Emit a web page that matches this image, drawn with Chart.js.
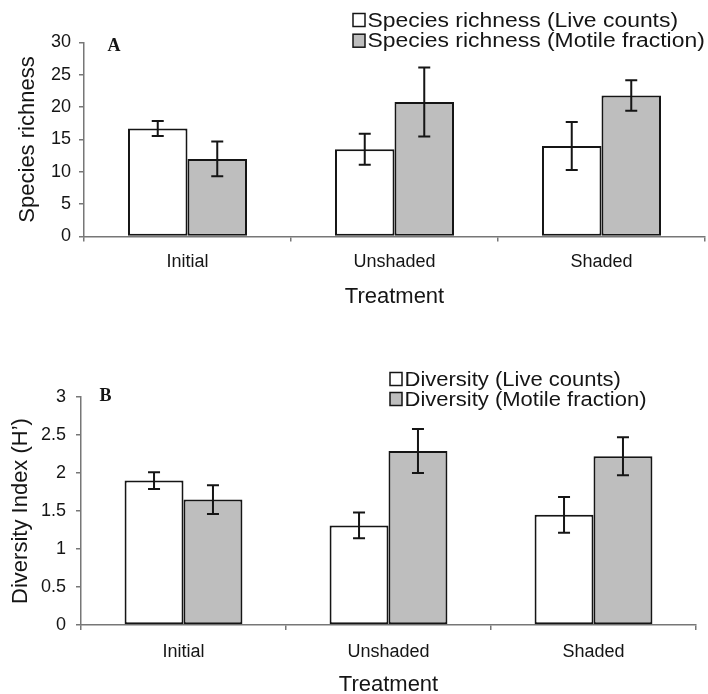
<!DOCTYPE html>
<html>
<head>
<meta charset="utf-8">
<script src="https://cdn.jsdelivr.net/npm/chart.js@4.4.1/dist/chart.umd.min.js"></script>
<style>
  html, body { margin: 0; padding: 0; background: #fff; overflow: hidden; }
  #wrap { position: relative; width: 708px; height: 694px; overflow: hidden; }
  canvas { position: absolute; left: 0; }
  #chartA { top: 0; }
  #chartB { top: 330px; }
</style>
</head>
<body>
<div id="wrap">
  <canvas id="chartA" width="708" height="330"></canvas>
  <canvas id="chartB" width="708" height="380"></canvas>
</div>
<script>
// data
const treatments = ['Initial', 'Unshaded', 'Shaded'];

const richnessLive = [16.7, 13.5, 14.0];
const richnessLiveErr = [1.15, 2.4, 3.7];
const richnessMotile = [12.0, 20.8, 21.8];
const richnessMotileErr = [2.7, 5.35, 2.35];
const richnessTicks = [0, 5, 10, 15, 20, 25, 30];

const diversityLive = [1.9, 1.31, 1.45];
const diversityLiveErr = [0.11, 0.17, 0.235];
const diversityMotile = [1.65, 2.29, 2.22];
const diversityMotileErr = [0.19, 0.29, 0.25];
const diversityTicks = [0, 0.5, 1, 1.5, 2, 2.5, 3];

const sansFont = "'Liberation Sans', Arial, Helvetica, sans-serif";
const axisGrey = '#777';
const ink = '#151515';
const barGrey = '#bebebe';

// error bars drawn on top of the bars
const errorBars = {
  id: 'errorBars',
  afterDatasetsDraw(chart) {
    const ctx = chart.ctx;
    const yScale = chart.scales.y;
    ctx.save();
    ctx.strokeStyle = ink;
    ctx.lineWidth = 2;
    chart.data.datasets.forEach((ds, i) => {
      const meta = chart.getDatasetMeta(i);
      meta.data.forEach((bar, j) => {
        const v = ds.data[j], e = ds.errors[j];
        const top = yScale.getPixelForValue(v + e);
        const bot = yScale.getPixelForValue(v - e);
        ctx.beginPath();
        ctx.moveTo(bar.x, top); ctx.lineTo(bar.x, bot);
        ctx.moveTo(bar.x - 6, top); ctx.lineTo(bar.x + 6, top);
        ctx.moveTo(bar.x - 6, bot); ctx.lineTo(bar.x + 6, bot);
        ctx.stroke();
      });
    });
    ctx.restore();
  }
};

// stacked legend with boxes and the panel letter
const panelLegend = {
  id: 'panelLegend',
  afterDraw(chart, args, opts) {
    const ctx = chart.ctx;
    ctx.save();
    chart.data.datasets.forEach((ds, i) => {
      const y = opts.y + i * opts.gap;
      ctx.fillStyle = ds.backgroundColor;
      ctx.fillRect(opts.x, y - 6.5, 12, 13);
      ctx.strokeStyle = ink;
      ctx.lineWidth = 1.5;
      ctx.strokeRect(opts.x, y - 6.5, 12, 13);
      ctx.save();
      ctx.translate(opts.x + 14.5, y);
      ctx.scale(opts.stretch, 1);
      ctx.fillStyle = ink;
      ctx.font = '20px ' + sansFont;
      ctx.textBaseline = 'middle';
      ctx.fillText(ds.label, 0, 1);
      ctx.restore();
    });
    ctx.fillStyle = ink;
    ctx.font = "bold 18px 'Liberation Serif', 'Times New Roman', serif";
    ctx.textAlign = 'center';
    ctx.textBaseline = 'middle';
    ctx.fillText(opts.letter, opts.letterX, opts.letterY);
    ctx.restore();
  }
};

function makeChart(id, cfg) {
  return new Chart(document.getElementById(id), {
    type: 'bar',
    data: {
      labels: treatments,
      datasets: [{
        label: cfg.names[0],
        data: cfg.live,
        errors: cfg.liveErr,
        backgroundColor: '#ffffff',
        borderColor: ink,
        borderWidth: 2,
        borderSkipped: false
      }, {
        label: cfg.names[1],
        data: cfg.motile,
        errors: cfg.motileErr,
        backgroundColor: barGrey,
        borderColor: ink,
        borderWidth: 2,
        borderSkipped: false
      }]
    },
    options: {
      responsive: false,
      animation: false,
      devicePixelRatio: 1,
      layout: { padding: { top: cfg.top, right: cfg.right, bottom: 0, left: 0 } },
      datasets: { bar: { barPercentage: 1, categoryPercentage: 0.575 } },
      plugins: {
        legend: { display: false },
        tooltip: { enabled: false },
        panelLegend: cfg.legend
      },
      scales: {
        x: {
          afterFit(scale) { scale.height = cfg.xHeight; },
          grid: { drawOnChartArea: false, drawTicks: true, tickLength: 5, color: axisGrey, lineWidth: 1.5, offset: true },
          border: { display: true, color: axisGrey, width: 1.5 },
          ticks: { color: ink, padding: cfg.xPad, font: { family: sansFont, size: 18 } },
          title: { display: true, text: 'Treatment', color: ink, padding: { top: 0, bottom: cfg.titlePad }, font: { family: sansFont, size: 22 } }
        },
        y: {
          min: 0,
          max: cfg.ticks[cfg.ticks.length - 1],
          afterFit(scale) { scale.width = cfg.yWidth; },
          afterBuildTicks(scale) { scale.ticks = cfg.ticks.map(v => ({ value: v })); },
          grid: { drawOnChartArea: false, drawTicks: true, tickLength: 5, color: axisGrey, lineWidth: 1.5 },
          border: { display: true, color: axisGrey, width: 1.5 },
          ticks: { color: ink, padding: cfg.yPad, font: { family: sansFont, size: 18 }, callback: v => String(v) },
          title: { display: true, text: cfg.yTitle, color: ink, padding: { top: cfg.yTitlePad, bottom: 0 }, font: { family: sansFont, size: 22 } }
        }
      }
    },
    plugins: [errorBars, panelLegend]
  });
}

makeChart('chartA', {
  names: ['Species richness (Live counts)', 'Species richness (Motile fraction)'],
  live: richnessLive, liveErr: richnessLiveErr,
  motile: richnessMotile, motileErr: richnessMotileErr,
  ticks: richnessTicks,
  yTitle: 'Species richness',
  top: 42.5, right: 3, xHeight: 93.5, yWidth: 84,
  xPad: 10, titlePad: 20, yPad: 8, yTitlePad: 15,
  legend: { x: 353, y: 20, gap: 20.7, stretch: 1.145, letter: 'A', letterX: 114, letterY: 46 }
});

makeChart('chartB', {
  names: ['Diversity (Live counts)', 'Diversity (Motile fraction)'],
  live: diversityLive, liveErr: diversityLiveErr,
  motile: diversityMotile, motileErr: diversityMotileErr,
  ticks: diversityTicks,
  yTitle: 'Diversity Index (H\u2019)',
  top: 67, right: 12, xHeight: 85, yWidth: 81,
  xPad: 11, titlePad: 12, yPad: 10, yTitlePad: 8,
  legend: { x: 390, y: 49, gap: 20, stretch: 1.1, letter: 'B', letterX: 105.5, letterY: 66 }
});
</script>
</body>
</html>
